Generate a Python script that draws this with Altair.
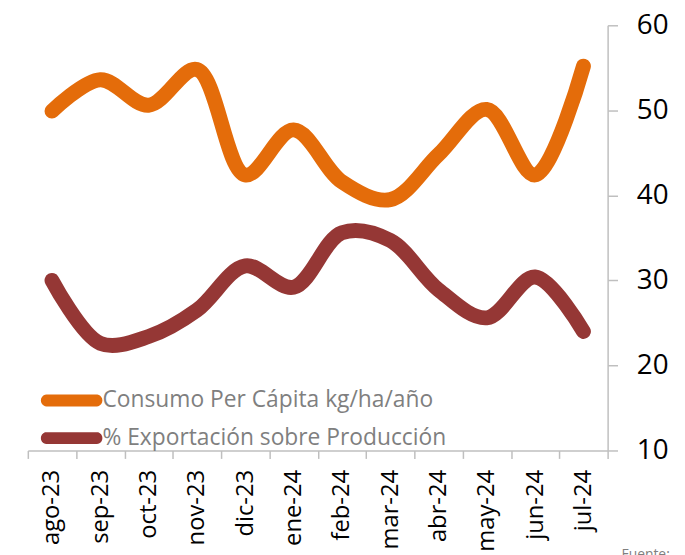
import math
import altair as alt
import pandas as pd

months = ["ago-23", "sep-23", "oct-23", "nov-23", "dic-23", "ene-24",
          "feb-24", "mar-24", "abr-24", "may-24", "jun-24", "jul-24"]
consumo = [49.9, 53.6, 50.6, 54.8, 42.4, 47.7, 41.6, 39.5, 44.8, 50.1, 42.4, 55.2]
exportacion = [30.0, 22.6, 23.4, 26.5, 31.7, 29.2, 35.6, 34.7, 28.9, 25.6, 30.4, 24.0]
series_names = ["Consumo Per Cápita kg/ha/año", "% Exportación sobre Producción"]
series_colors = ["#E46C0A", "#953735"]
y_ticks = [10, 20, 30, 40, 50, 60]
source_note = ["Fuente:"]

rows = []
for name, vals in zip(series_names, [consumo, exportacion]):
    for m, v in zip(months, vals):
        rows.append({"mes": m, "valor": v, "serie": name})
df = pd.DataFrame(rows)

# legend symbol: thin stadium outline, stroked thick -> rounded bar
half_len, rad, steps = 2.5, 0.05, 10
pts = []
for i in range(steps + 1):
    a = -math.pi / 2 + math.pi * i / steps
    pts.append((half_len + rad * math.cos(a), rad * math.sin(a)))
for i in range(steps + 1):
    a = math.pi / 2 + math.pi * i / steps
    pts.append((-half_len + rad * math.cos(a), rad * math.sin(a)))
sym = "M " + " L ".join(f"{x:.4f} {y:.4f}" for x, y in pts) + " Z"

lines = alt.Chart(df).mark_line(
    strokeWidth=15, strokeCap="round", strokeJoin="round", interpolate="catmull-rom"
).encode(
    x=alt.X("mes:N", sort=months, title=None,
            scale=alt.Scale(type="band", paddingInner=0, paddingOuter=0),
            axis=alt.Axis(labelAngle=270, labelFontSize=24, labelColor="#000000",
                          labelPadding=11, tickSize=8, tickBand="extent",
                          domainColor="#BFBFBF", tickColor="#BFBFBF",
                          domainWidth=1.5, tickWidth=1.5, grid=False)),
    y=alt.Y("valor:Q", title=None,
            scale=alt.Scale(domain=[10, 60], nice=False, zero=False),
            axis=alt.Axis(orient="right", values=y_ticks, labelFontSize=28,
                          labelColor="#000000", labelPadding=19, tickSize=10,
                          domainColor="#BFBFBF", tickColor="#BFBFBF",
                          domainWidth=1.5, tickWidth=1.5, grid=False)),
    color=alt.Color("serie:N", sort=series_names,
                    scale=alt.Scale(domain=series_names, range=series_colors),
                    legend=alt.Legend(title=None, orient="none", legendX=28.7, legendY=363,
                                      symbolType=sym, symbolSize=400,
                                      symbolStrokeWidth=11, labelFontSize=23,
                                      labelColor="#7F7F7F", labelOffset=15.6,
                                      rowPadding=-30, labelLimit=600)),
)

note = alt.Chart(pd.DataFrame({"t": source_note})).mark_text(
    align="left", baseline="top", fontSize=14, color="#7F7F7F"
).encode(text="t:N", x=alt.value(599), y=alt.value(527))

chart = alt.layer(lines, note).properties(
    width=585, height=429,
    autosize=alt.AutoSizeParams(type="none"),
    padding={"left": 20, "top": 15, "right": 70, "bottom": 103},
).configure(font="Open Sans").configure_view(stroke=None)

chart.save("out.html", embed_options={"renderer": "svg", "actions": False})
